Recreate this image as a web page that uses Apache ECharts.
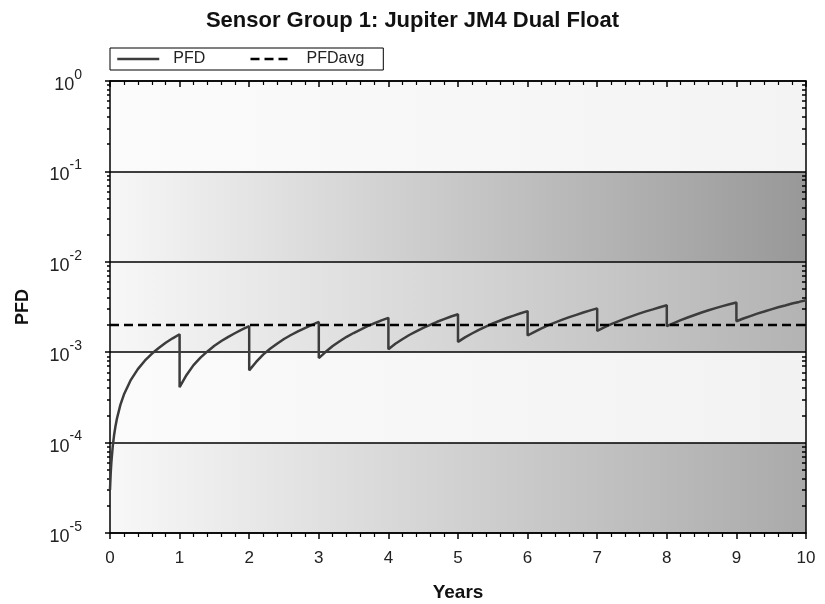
<!DOCTYPE html>
<html>
<head>
<meta charset="utf-8">
<script src="https://cdn.jsdelivr.net/npm/echarts@6/dist/echarts.min.js"></script>
<style>
html,body{margin:0;padding:0;background:#fff;}
#chart{width:825px;height:604px;}
</style>
</head>
<body>
<div id="chart"></div>
<script>
// ---- data ----
var titleText = 'Sensor Group 1: Jupiter JM4 Dual Float';
var xTicks = [0,1,2,3,4,5,6,7,8,9,10];
var decadeExponents = [-5,-4,-3,-2,-1,0];
var minorMultipliers = [2,3,4,5,6,7,8,9];

var pfdYears = [
  0,0.01,0.02,0.04,0.06,0.08,0.1,0.15,0.2,0.3,0.4,0.5,0.6,0.7,0.8,0.9,1.0,
  1.0,1.1,1.2,1.3,1.4,1.5,1.6,1.7,1.8,1.9,2.0,
  2.0,2.1,2.2,2.3,2.4,2.5,2.6,2.7,2.8,2.9,3.0,
  3.0,3.1,3.2,3.3,3.4,3.5,3.6,3.7,3.8,3.9,4.0,
  4.0,4.1,4.2,4.3,4.4,4.5,4.6,4.7,4.8,4.9,5.0,
  5.0,5.1,5.2,5.3,5.4,5.5,5.6,5.7,5.8,5.9,6.0,
  6.0,6.1,6.2,6.3,6.4,6.5,6.6,6.7,6.8,6.9,7.0,
  7.0,7.1,7.2,7.3,7.4,7.5,7.6,7.7,7.8,7.9,8.0,
  8.0,8.1,8.2,8.3,8.4,8.5,8.6,8.7,8.8,8.9,9.0,
  9.0,9.1,9.2,9.3,9.4,9.5,9.6,9.7,9.8,9.9,10.0
];
var pfdValues = [
  3.0e-5,4.6e-5,6.1e-5,9.2e-5,1.23e-4,1.54e-4,1.85e-4,2.63e-4,3.4e-4,4.95e-4,6.5e-4,8.05e-4,9.6e-4,1.115e-3,1.27e-3,1.425e-3,1.58e-3,
  4.1e-4,5.6e-4,7.2e-4,8.7e-4,1.02e-3,1.18e-3,1.33e-3,1.48e-3,1.63e-3,1.79e-3,1.94e-3,
  6.3e-4,7.8e-4,9.4e-4,1.09e-3,1.24e-3,1.4e-3,1.55e-3,1.7e-3,1.85e-3,2.01e-3,2.16e-3,
  8.6e-4,1.01e-3,1.17e-3,1.32e-3,1.48e-3,1.63e-3,1.78e-3,1.94e-3,2.09e-3,2.25e-3,2.4e-3,
  1.08e-3,1.24e-3,1.39e-3,1.55e-3,1.7e-3,1.86e-3,2.01e-3,2.17e-3,2.32e-3,2.48e-3,2.63e-3,
  1.3e-3,1.46e-3,1.61e-3,1.77e-3,1.92e-3,2.08e-3,2.23e-3,2.39e-3,2.54e-3,2.7e-3,2.85e-3,
  1.53e-3,1.68e-3,1.83e-3,1.99e-3,2.14e-3,2.29e-3,2.44e-3,2.59e-3,2.75e-3,2.9e-3,3.05e-3,
  1.72e-3,1.88e-3,2.04e-3,2.19e-3,2.35e-3,2.51e-3,2.67e-3,2.83e-3,2.98e-3,3.14e-3,3.3e-3,
  1.94e-3,2.1e-3,2.26e-3,2.42e-3,2.58e-3,2.75e-3,2.91e-3,3.07e-3,3.23e-3,3.39e-3,3.55e-3,
  2.2e-3,2.36e-3,2.51e-3,2.67e-3,2.82e-3,2.98e-3,3.14e-3,3.29e-3,3.45e-3,3.6e-3,3.76e-3
];
var pfdAvgYears = [0, 10];
var pfdAvgValues = [2.0e-3, 2.0e-3];

// ---- build ----
var minorValues = [];
decadeExponents.slice(0, -1).forEach(function(e){
  minorMultipliers.forEach(function(m){ minorValues.push(m * Math.pow(10, e)); });
});
function pairs(xs, ys){ return xs.map(function(x, i){ return [x, ys[i]]; }); }

function grad(c0, c1){
  return new echarts.graphic.LinearGradient(0, 0, 1, 0, [
    {offset: 0, color: c0}, {offset: 1, color: c1}
  ]);
}
// bottom -> top
var bandFills = [
  grad('#f8f8f8', '#aaaaaa'),
  grad('#fbfbfb', '#f2f2f2'),
  grad('#f7f7f7', '#b3b3b3'),
  grad('#f7f7f7', '#989898'),
  grad('#fbfbfb', '#f3f3f3')
];

var FONT = 'Liberation Sans, Arial, sans-serif';
var chart = echarts.init(document.getElementById('chart'));

var option = {
  backgroundColor: '#ffffff',
  animation: false,
  title: {
    text: titleText, left: 'center', top: 5,
    textStyle: {fontFamily: FONT, fontSize: 22, fontWeight: 'bold', color: '#111'}
  },
  legend: {
    left: 110, top: 48,
    padding: [3, 19, 3, 6],
    borderColor: '#000', borderWidth: 1,
    itemWidth: 42, itemHeight: 14, itemGap: 44,
    itemStyle: {opacity: 0, borderWidth: 0},
    lineStyle: {width: 2.5},
    textStyle: {fontFamily: FONT, fontSize: 16, color: '#222', padding: [0, 0, 0, 9]},
    data: ['PFD', 'PFDavg']
  },
  grid: {left: 110, right: 19, top: 81, bottom: 71, containLabel: false, outerBoundsMode: 'none'},
  xAxis: [{
    type: 'value', min: 0, max: 10, interval: 1,
    name: 'Years', nameLocation: 'middle', nameGap: 50,
    nameTextStyle: {fontFamily: FONT, fontSize: 19, fontWeight: 'bold', color: '#111'},
    axisLine: {show: true, lineStyle: {color: '#000', width: 1.5}},
    axisTick: {show: true, inside: false, length: 6, lineStyle: {color: '#000', width: 1.5}},
    minorTick: {show: true, splitNumber: 5, length: 4, lineStyle: {color: '#000', width: 1.2}},
    axisLabel: {fontFamily: FONT, fontSize: 17, color: '#222', margin: 17},
    splitLine: {show: false}
  }, {
    type: 'value', min: 0, max: 10, interval: 1, position: 'top',
    axisLine: {show: true, lineStyle: {color: '#000', width: 1.5}},
    axisTick: {show: true, inside: true, length: 6, lineStyle: {color: '#000', width: 1.5}},
    minorTick: {show: true, splitNumber: 5, length: 4, lineStyle: {color: '#000', width: 1.2}},
    axisLabel: {show: false},
    splitLine: {show: false}
  }],
  yAxis: [{
    type: 'log', logBase: 10, min: 1e-5, max: 1, interval: 1,
    name: 'PFD', nameLocation: 'middle', nameGap: 78, nameRotate: 90,
    nameTextStyle: {fontFamily: FONT, fontSize: 18, fontWeight: 'bold', color: '#111'},
    axisLine: {show: true, lineStyle: {color: '#000', width: 1.5}},
    axisTick: {show: true, inside: false, length: 5, lineStyle: {color: '#000', width: 1.5}},
    axisLabel: {
      margin: 28,
      formatter: function(v){
        var e = Math.round(Math.log(v) / Math.LN10);
        return '{b|10}{s|' + e + '}';
      },
      rich: {
        b: {fontFamily: FONT, fontSize: 18, color: '#222', padding: [8, 0, 0, 0]},
        s: {fontFamily: FONT, fontSize: 14, color: '#222', verticalAlign: 'top'}
      }
    },
    splitLine: {show: true, lineStyle: {color: '#000', width: 1.5}},
    splitArea: {show: true, areaStyle: {color: bandFills}}
  }, {
    type: 'log', logBase: 10, min: 1e-5, max: 1, position: 'left',
    axisLine: {show: false},
    axisTick: {show: true, inside: false, length: 3, customValues: minorValues, lineStyle: {color: '#000', width: 1.5}},
    axisLabel: {show: false},
    splitLine: {show: false}
  }, {
    type: 'log', logBase: 10, min: 1e-5, max: 1, position: 'right',
    axisLine: {show: true, lineStyle: {color: '#000', width: 1.5}},
    axisTick: {show: true, inside: true, length: 4, customValues: minorValues, lineStyle: {color: '#000', width: 1.5}},
    axisLabel: {show: false},
    splitLine: {show: false}
  }],
  series: [{
    name: 'PFD', type: 'line', xAxisIndex: 0, yAxisIndex: 0,
    data: pairs(pfdYears, pfdValues),
    showSymbol: false, symbol: 'none',
    lineStyle: {color: '#3c3c3c', width: 2.5},
    itemStyle: {color: '#3c3c3c'},
    z: 3
  }, {
    name: 'PFDavg', type: 'line', xAxisIndex: 0, yAxisIndex: 0,
    data: pairs(pfdAvgYears, pfdAvgValues),
    showSymbol: false, symbol: 'none',
    lineStyle: {color: '#000', width: 2.5, type: [9, 5]},
    itemStyle: {color: '#000'},
    z: 4
  }]
};
chart.setOption(option);
</script>
</body>
</html>
